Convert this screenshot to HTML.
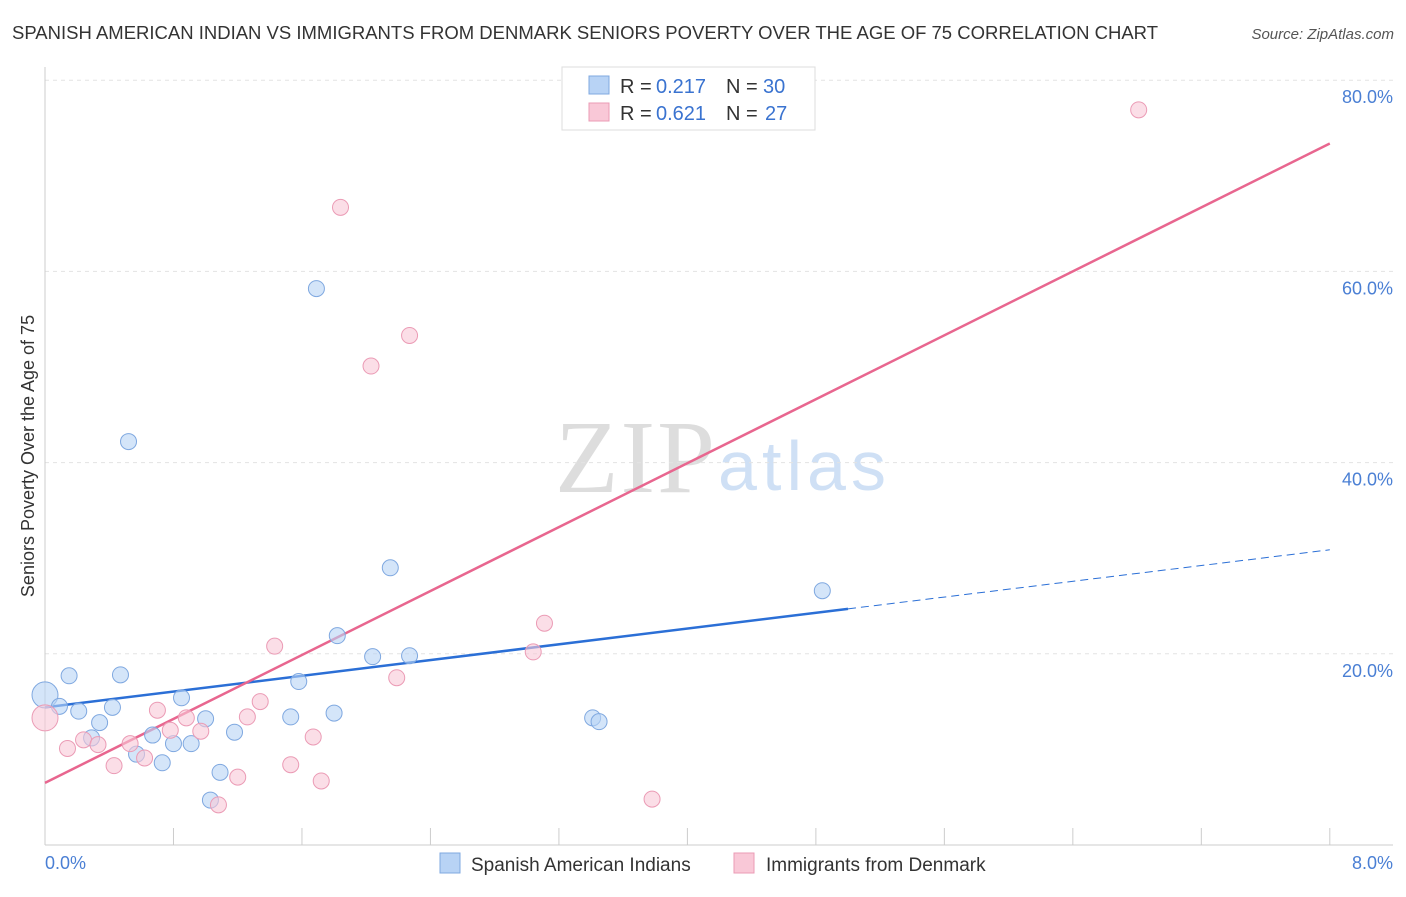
<!DOCTYPE html>
<html><head><meta charset="utf-8"><style>
body{margin:0;background:#fff;font-family:"Liberation Sans",sans-serif;}
</style></head><body>
<svg width="1406" height="892" xmlns="http://www.w3.org/2000/svg">
<text x="12" y="39" font-size="18.5" fill="#333" textLength="1146">SPANISH AMERICAN INDIAN VS IMMIGRANTS FROM DENMARK SENIORS POVERTY OVER THE AGE OF 75 CORRELATION CHART</text>
<text x="1394" y="39" font-size="15" fill="#555" font-style="italic" text-anchor="end">Source: ZipAtlas.com</text>
<text x="555" y="492" font-size="104" fill="#ddd" font-family="Liberation Serif" textLength="160">ZIP</text>
<text x="718" y="490" font-size="70" fill="#cfe0f5" textLength="168">atlas</text>
<g id="grid"></g><g id="axes"></g><g id="lines"></g><g id="pts"></g>
<text x="34" y="456" font-size="18" fill="#333" text-anchor="middle" transform="rotate(-90 34 456)">Seniors Poverty Over the Age of 75</text>
<text x="45" y="869" font-size="18" fill="#4a7fd4">0.0%</text>
<text x="1393" y="869" font-size="18" fill="#4a7fd4" text-anchor="end">8.0%</text>
<g>
<rect x="562" y="67" width="253" height="63" fill="#fff" stroke="#ddd"/>
<rect x="589" y="76" width="20" height="18" fill="#b8d3f5" stroke="#7fa8e0"/>
<rect x="589" y="103" width="20" height="18" fill="#f9c8d7" stroke="#eb9bb5"/>
<text x="620" y="93" font-size="20" fill="#333">R = </text><text x="656" y="93" font-size="20" fill="#3a73d0">0.217</text>
<text x="726" y="93" font-size="20" fill="#333">N = </text><text x="763" y="93" font-size="20" fill="#3a73d0">30</text>
<text x="620" y="120" font-size="20" fill="#333">R = </text><text x="656" y="120" font-size="20" fill="#3a73d0">0.621</text>
<text x="726" y="120" font-size="20" fill="#333">N = </text><text x="765" y="120" font-size="20" fill="#3a73d0">27</text>
</g>
<g>
<rect x="440" y="853" width="20" height="20" fill="#b8d3f5" stroke="#7fa8e0"/>
<text x="471" y="871" font-size="19" fill="#333">Spanish American Indians</text>
<rect x="734" y="853" width="20" height="20" fill="#f9c8d7" stroke="#eb9bb5"/>
<text x="766" y="871" font-size="19" fill="#333">Immigrants from Denmark</text>
</g>
</svg>
<script>
const yTicks=[20,40,60,80];
const yTickLabels=["20.0%","40.0%","60.0%","80.0%"];
const blueX=[0,0.09,0.15,0.21,0.29,0.34,0.42,0.47,0.52,0.57,0.67,0.73,0.80,0.85,0.91,1.00,1.03,1.09,1.18,1.53,1.58,1.69,1.80,1.82,2.04,2.15,2.27,3.41,3.45,4.84];
const blueY=[15.7,14.5,17.7,14.0,11.2,12.8,14.4,17.8,42.2,9.5,11.5,8.6,10.6,15.4,10.6,13.2,4.7,7.6,11.8,13.4,17.1,58.2,13.8,21.9,19.7,29.0,19.8,13.3,12.9,26.6];
const pinkX=[0,0.14,0.24,0.33,0.43,0.53,0.62,0.70,0.78,0.88,0.97,1.08,1.20,1.26,1.34,1.43,1.53,1.67,1.72,1.84,2.03,2.19,2.27,3.04,3.11,3.78,6.81];
const pinkY=[13.3,10.1,11.0,10.5,8.3,10.6,9.1,14.1,12.0,13.3,11.9,4.2,7.1,13.4,15.0,20.8,8.4,11.3,6.7,66.7,50.1,17.5,53.3,20.2,23.2,4.8,76.9];
const blueFit=[14.4,2.06];
const pinkFit=[6.5,8.36];
const X=v=>45+v*160.6, Y=v=>845-v*9.56;
const NS="http://www.w3.org/2000/svg";
function mk(t,a,p){const e=document.createElementNS(NS,t);for(const k in a)e.setAttribute(k,a[k]);document.getElementById(p).appendChild(e);return e;}
yTicks.forEach((t,i)=>{
 const l=mk('line',{x1:45,x2:1393,y1:Y(t),y2:Y(t),stroke:'#e3e3e3','stroke-dasharray':'4,4'},'grid');
 
 
 const tx=mk('text',{x:1393,y:Y(t)+23,'font-size':18,fill:'#4a7fd4','text-anchor':'end'},'grid');
 tx.textContent=yTickLabels[i];
 
 
});
const ax=mk('line',{x1:45,x2:1393,y1:845,y2:845,stroke:'#ccc'},'axes');


const ay=mk('line',{x1:45,x2:45,y1:67,y2:845,stroke:'#ccc'},'axes');


for(let i=0;i<=10;i++){const t=mk('line',{x1:X(i*0.8),x2:X(i*0.8),y1:828,y2:845,stroke:'#ccc'},'axes');
 
 }
let l1=mk('line',{x1:X(0),y1:Y(blueFit[0]),x2:X(5),y2:Y(blueFit[0]+5*blueFit[1]),stroke:'#2b6fd6','stroke-width':2.5},'lines');


let l2=mk('line',{x1:X(5),y1:Y(blueFit[0]+5*blueFit[1]),x2:X(8),y2:Y(blueFit[0]+8*blueFit[1]),stroke:'#2b6fd6','stroke-width':1,'stroke-dasharray':'8,5'},'lines');


let l3=mk('line',{x1:X(0),y1:Y(pinkFit[0]),x2:X(8),y2:Y(pinkFit[0]+8*pinkFit[1]),stroke:'#e8668f','stroke-width':2.5},'lines');


function pts(xs,ys,fill,stroke,name){xs.forEach((x,i)=>{
 const c=mk('circle',{cx:X(x),cy:Y(ys[i]),r:i==0?13:8,fill:fill,'fill-opacity':0.6,stroke:stroke,'stroke-width':1},'pts');
 
 });}
pts(blueX,blueY,'#b8d3f5','#7fa8e0','blue-point');
pts(pinkX,pinkY,'#f9c8d7','#eb9bb5','pink-point');
</script>
</body></html>
